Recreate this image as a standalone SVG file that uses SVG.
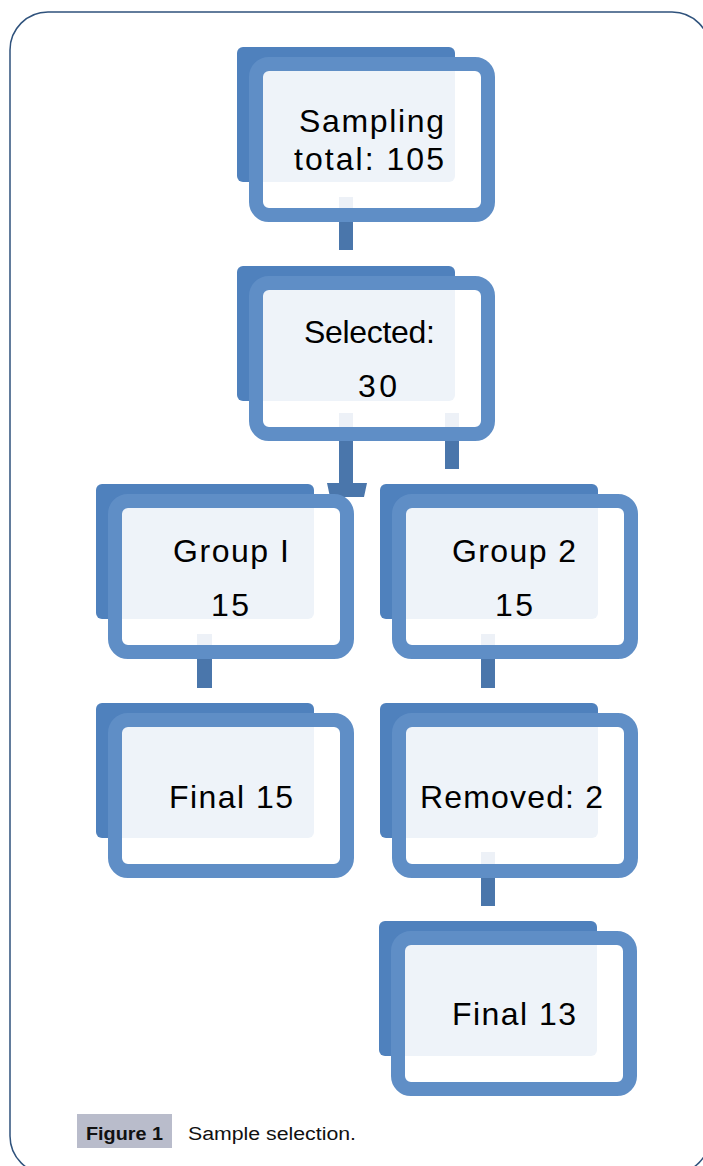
<svg xmlns="http://www.w3.org/2000/svg" width="703" height="1166" viewBox="0 0 703 1166">
<style>
.dark{fill:#4f81bd}
.frame{fill:#ffffff;fill-opacity:0.9;stroke:#5f8ec6;stroke-width:14}
.conn{fill:#4a76ab}
.lbl{font-family:"Liberation Sans",Arial,sans-serif;font-size:32px;fill:#000}
.cap{font-family:"Liberation Sans",Arial,sans-serif;font-size:18px;fill:#111}
</style>
<rect x="10" y="12" width="700" height="1162" rx="38" fill="#fff" stroke="#2f527c" stroke-width="1.5"/>
<g id="connectors">
<rect class="conn" x="339" y="197" width="14" height="53"/>
<rect class="conn" x="339" y="413" width="14" height="72"/>
<polygon class="conn" points="327,483 367,483 364,497 330,497"/>
<rect class="conn" x="445" y="413" width="14" height="56"/>
<rect class="conn" x="197" y="634" width="15" height="54"/>
<rect class="conn" x="481" y="634" width="14" height="54"/>
<rect class="conn" x="481" y="852" width="14" height="54"/>
</g>
<g id="n1">
<rect class="dark" x="237" y="47" width="218" height="135" rx="6"/>
<rect class="frame" x="256" y="64" width="232" height="151" rx="13"/>
<text class="lbl" x="299" y="132" textLength="145" lengthAdjust="spacing">Sampling</text>
<text class="lbl" x="294" y="170" textLength="150" lengthAdjust="spacing">total: 105</text>
</g>
<g id="n2">
<rect class="dark" x="237" y="266" width="218" height="135" rx="6"/>
<rect class="frame" x="256" y="283" width="232" height="151" rx="13"/>
<text class="lbl" x="304" y="343" textLength="131" lengthAdjust="spacing">Selected:</text>
<text class="lbl" x="358" y="397" textLength="39" lengthAdjust="spacing">30</text>
</g>
<g id="n3">
<rect class="dark" x="96" y="484" width="218" height="135" rx="6"/>
<rect class="frame" x="115" y="501" width="232" height="151" rx="13"/>
<text class="lbl" x="173" y="562" textLength="116" lengthAdjust="spacing">Group I</text>
<text class="lbl" x="211" y="616" textLength="38" lengthAdjust="spacing">15</text>
</g>
<g id="n4">
<rect class="dark" x="380" y="484" width="218" height="135" rx="6"/>
<rect class="frame" x="399" y="501" width="232" height="151" rx="13"/>
<text class="lbl" x="452" y="562" textLength="124" lengthAdjust="spacing">Group 2</text>
<text class="lbl" x="495" y="616" textLength="38" lengthAdjust="spacing">15</text>
</g>
<g id="n5">
<rect class="dark" x="96" y="703" width="218" height="135" rx="6"/>
<rect class="frame" x="115" y="720" width="232" height="151" rx="13"/>
<text class="lbl" x="169" y="808" textLength="124" lengthAdjust="spacing">Final 15</text>
</g>
<g id="n6">
<rect class="dark" x="380" y="703" width="218" height="135" rx="6"/>
<rect class="frame" x="399" y="720" width="232" height="151" rx="13"/>
<text class="lbl" x="420" y="808" textLength="183" lengthAdjust="spacing">Removed: 2</text>
</g>
<g id="n7">
<rect class="dark" x="379" y="921" width="218" height="135" rx="6"/>
<rect class="frame" x="398" y="938" width="232" height="151" rx="13"/>
<text class="lbl" x="452" y="1025" textLength="124" lengthAdjust="spacing">Final 13</text>
</g>
<g id="caption">
<rect x="77" y="1114" width="95" height="34" fill="#b9bccb"/>
<text class="cap" x="86" y="1140" font-weight="bold" textLength="77" lengthAdjust="spacingAndGlyphs">Figure 1</text>
<text class="cap" x="188" y="1140" textLength="168" lengthAdjust="spacingAndGlyphs">Sample selection.</text>
</g>
</svg>
